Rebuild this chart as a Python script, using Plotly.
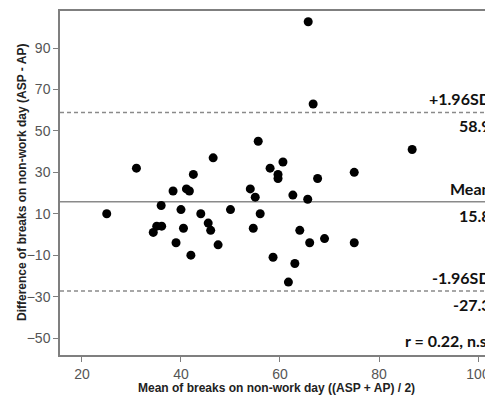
"""Bland-Altman plot: breaks on non-work day (ASP vs AP)."""

import plotly.graph_objects as go

# Mean of the two methods (x) and their difference (y)
mean_vals = [
    25, 31, 34.4, 35.1, 36.1, 36, 38.4, 39, 40, 40.5, 41.1, 41.7, 42, 42.5,
    44, 45.5, 46, 46.5, 47.5, 50, 54, 54.6, 55, 55.6, 56, 58, 58.6, 59.6,
    59.6, 60.6, 61.7, 62.6, 63, 64, 65.6, 65.7, 66, 66.7, 67.6, 69, 75, 75,
    86.7,
]
diff_vals = [
    10, 32, 1, 4, 4, 14, 21, -4, 12, 3, 22, 21, -10, 29,
    10, 5.5, 2, 37, -5, 12, 22, 3, 18, 45, 10, 32, -11, 29,
    27, 35, -23, 19, -14, 2, 17, 102.7, -4, 63, 27, -2, 30, -4,
    41,
]

MEAN_DIFF = 15.8
UPPER_LOA = 58.9
LOWER_LOA = -27.3
R_TEXT = "r = 0.22, n.s."

X_TICKS = [20, 40, 60, 80, 100]
Y_TICKS = [-50, -30, -10, 10, 30, 50, 70, 90]

FRAME = "#7f7f7f"
TICK_TEXT = "#555555"
LABEL_FONT = dict(family="Lato, Noto Sans, sans-serif", size=16, color="#111111")
TITLE_FONT = dict(family="Liberation Sans, Arial, sans-serif", size=12, color="#222222")

# the page body has an 8px margin, so the figure is drawn 8px smaller
PLOT_W, PLOT_H = 433, 344

fig = go.Figure()

fig.add_trace(
    go.Scatter(
        x=mean_vals,
        y=diff_vals,
        mode="markers",
        marker=dict(size=9, color="black"),
        showlegend=False,
        hoverinfo="x+y",
    )
)

# Mean and limits of agreement
for yv, dash in [(MEAN_DIFF, "solid"), (UPPER_LOA, "4px,3px"), (LOWER_LOA, "4px,3px")]:
    fig.add_shape(
        type="line", xref="paper", yref="y", x0=0, x1=1, y0=yv, y1=yv,
        line=dict(color="#8a8a8a", width=1.5, dash=dash),
        layer="below",
    )

labels = [
    ("+1.96SD", UPPER_LOA, "bottom"),
    (f"{UPPER_LOA:.1f}", UPPER_LOA, "top"),
    ("Mean", MEAN_DIFF, "bottom"),
    (f"{MEAN_DIFF:.1f}", MEAN_DIFF, "top"),
    ("-1.96SD", LOWER_LOA, "bottom"),
    (f"{LOWER_LOA:.1f}", LOWER_LOA, "top"),
]
for txt, yv, anchor in labels:
    fig.add_annotation(
        x=1, xref="paper", y=yv, yref="y", text=f"<b>{txt}</b>",
        showarrow=False, xanchor="right", yanchor=anchor,
        yshift=2 if anchor == "bottom" else -2, font=LABEL_FONT,
    )

fig.add_annotation(
    x=1, xref="paper", y=0.01, yref="paper", text=f"<b>{R_TEXT}</b>",
    showarrow=False, xanchor="right", yanchor="bottom", font=LABEL_FONT,
)

# Axis titles as annotations for exact placement
fig.add_annotation(
    x=-38 / PLOT_W, xref="paper", y=0.5, yref="paper",
    text="<b>Difference of breaks on non-work day (ASP - AP)</b>",
    textangle=-90, showarrow=False, xanchor="center", yanchor="middle",
    font=TITLE_FONT,
)
fig.add_annotation(
    x=0.5, xref="paper", y=-33 / PLOT_H, yref="paper",
    text="<b>Mean of breaks on non-work day ((ASP + AP) / 2)</b>",
    showarrow=False, xanchor="center", yanchor="middle",
    font=TITLE_FONT,
)

fig.update_layout(
    width=485,
    height=392,
    margin=dict(l=52, r=0, t=3, b=45),
    plot_bgcolor="white",
    paper_bgcolor="white",
    font=dict(family="Liberation Sans, Arial, sans-serif", size=14, color=TICK_TEXT),
)

fig.update_xaxes(
    range=[15.56, 103.03],
    tickvals=X_TICKS,
    showgrid=False, zeroline=False,
    showline=True, mirror=True, linecolor=FRAME, linewidth=1.5,
    ticks="outside", ticklen=5, tickcolor=FRAME,
)
fig.update_yaxes(
    range=[-58.2, 107.9],
    tickvals=Y_TICKS,
    showgrid=False, zeroline=False,
    showline=True, linecolor=FRAME, linewidth=1.5,
    ticks="outside", ticklen=5, tickcolor=FRAME,
)

fig.write_html("out.html")
